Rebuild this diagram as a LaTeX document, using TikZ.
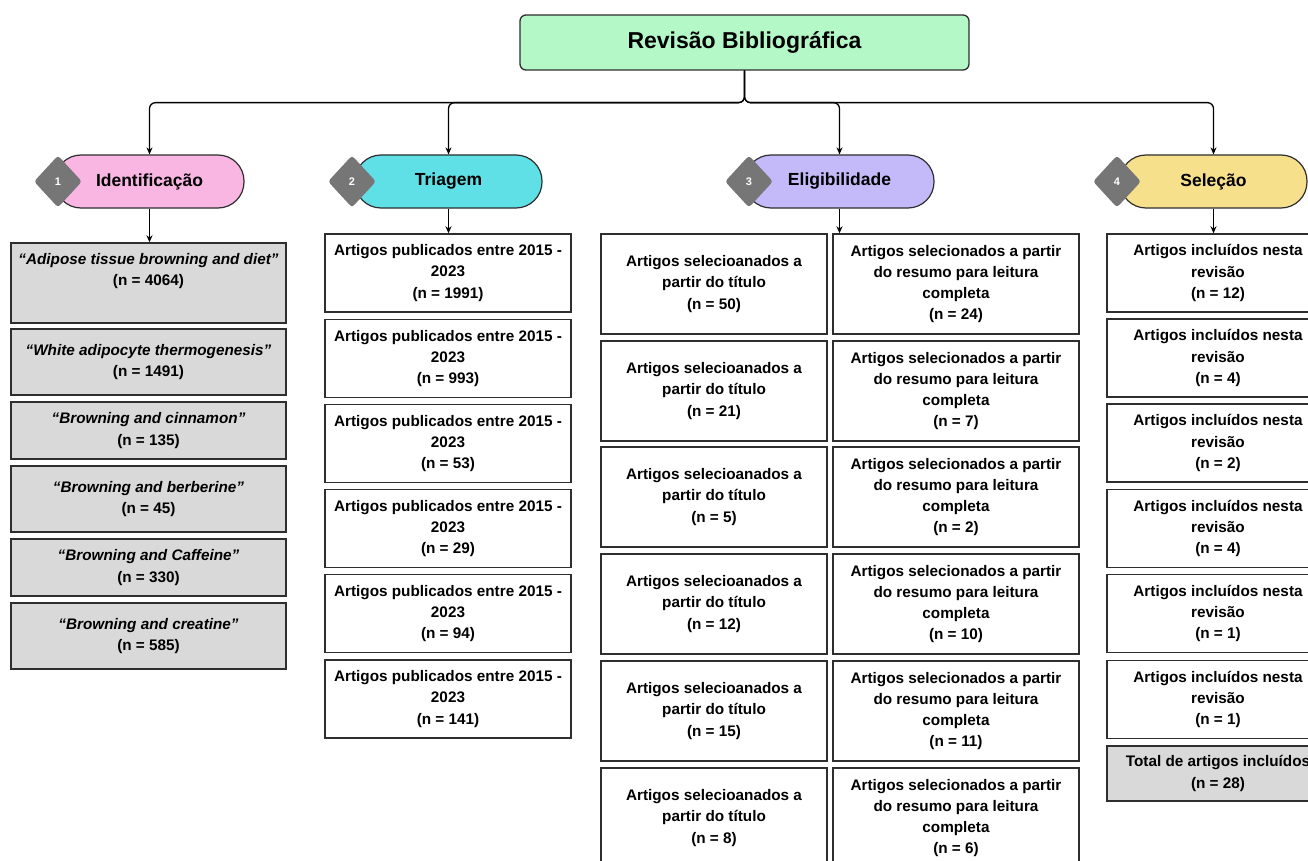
\documentclass[tikz,border=0pt]{standalone}
\usepackage{fontspec}
\setmainfont{Liberation Sans}
\usetikzlibrary{arrows.meta,shapes.geometric}
\definecolor{titlegreen}{HTML}{B4F8C8}
\definecolor{hpink}{HTML}{F9B6E2}
\definecolor{hcyan}{HTML}{5EE0E6}
\definecolor{hlav}{HTML}{C4BAFA}
\definecolor{hyel}{HTML}{F6E08C}
\definecolor{boxgray}{HTML}{D9D9D9}
\definecolor{edge}{HTML}{2E2E2E}
\definecolor{dia}{HTML}{767676}
\begin{document}
\begin{tikzpicture}[x=1pt,y=-1pt,
  body/.style={draw=edge, line width=1.4pt, align=center, inner sep=0pt,
    font=\fontsize{15.3}{21.3}\selectfont\bfseries},
  whitebox/.style={body, fill=white},
  graybox/.style={body, fill=boxgray},
  pill/.style={draw=edge, line width=1.2pt, rounded corners=26pt, minimum height=53pt,
    inner sep=0pt, font=\fontsize{17.5}{20}\selectfont\bfseries},
  badge/.style={diamond, fill=dia, minimum width=48pt, minimum height=52pt, inner sep=0pt,
    text=white, font=\fontsize{11}{12}\selectfont\bfseries, rounded corners=3pt},
  conn/.style={draw=black, line width=1.3pt, rounded corners=6pt,
    -{Stealth[length=7pt,width=6pt]}},
]
\useasboundingbox (0,0) rectangle (1308,861);
\clip (0,0) rectangle (1308,861);
\fill[white] (0,0) rectangle (1308,861);

% title
\node[draw=edge, line width=1.3pt, fill=titlegreen, rounded corners=6pt,
  minimum width=449pt, minimum height=55pt, inner sep=0pt,
  font=\fontsize{23}{26}\selectfont\bfseries] (title) at (744.5,42.5) {Revisão Bibliográfica};

% headers
\node[pill, fill=hpink, minimum width=189pt] (h1) at (149.5,181.5) {Identificação};
\node[pill, fill=hcyan, minimum width=187pt] (h2) at (448.5,181.5) {Triagem};
\node[pill, fill=hlav, minimum width=189pt] (h3) at (839.5,181.5) {Eligibilidade};
\node[pill, fill=hyel, minimum width=187pt] (h4) at (1213.5,181.5) {Seleção};
\node[badge] (d1) at (58,181.5) {1};
\node[badge] (d2) at (352,181.5) {2};
\node[badge] (d3) at (749,181.5) {3};
\node[badge] (d4) at (1117,181.5) {4};

% column 1
\node[graybox, minimum width=275pt, minimum height=80pt] (a1) at (148.5,283)
  {\itshape “Adipose tissue browning and diet”\\(n = 4064)\\\strut};
\node[graybox, minimum width=275pt, minimum height=66pt] (a2) at (148.5,362)
  {\itshape “White adipocyte thermogenesis”\\(n = 1491)};
\node[graybox, minimum width=275pt, minimum height=57pt] (a3) at (148.5,430.5)
  {\itshape “Browning and cinnamon”\\(n = 135)};
\node[graybox, minimum width=275pt, minimum height=66pt] (a4) at (148.5,499)
  {\itshape “Browning and berberine”\\(n = 45)};
\node[graybox, minimum width=275pt, minimum height=57pt] (a5) at (148.5,567.5)
  {\itshape “Browning and Caffeine”\\(n = 330)};
\node[graybox, minimum width=275pt, minimum height=66pt] (a6) at (148.5,636)
  {\itshape “Browning and creatine”\\(n = 585)};

% column 2
\foreach \i/\n/\y in {1/1991/273,2/993/358.5,3/53/443.5,4/29/528.5,5/94/613.5,6/141/699}
  \node[whitebox, minimum width=246pt, minimum height=78pt] (b\i) at (448,\y)
    {Artigos publicados entre 2015 -\\2023\\(n = \n)};

% column 3
\foreach \i/\n/\m/\y in {1/50/24/284,2/21/7/391,3/5/2/497,4/12/10/604,5/15/11/711,6/8/6/818}{
  \node[whitebox, minimum width=226pt, minimum height=100pt] (c\i) at (714,\y)
    {Artigos selecioanados a\\partir do título\\(n = \n)};
  \node[whitebox, minimum width=246pt, minimum height=100pt] (e\i) at (956,\y)
    {Artigos selecionados a partir\\do resumo para leitura\\completa\\(n = \m)};
}

% column 4
\foreach \i/\n/\y in {1/12/273,2/4/358,3/2/443,4/4/528.5,5/1/613.5,6/1/699.5}
  \node[whitebox, minimum width=222pt, minimum height=78pt] (s\i) at (1218,\y)
    {Artigos incluídos nesta\\revisão\\(n = \n)};
\node[graybox, minimum width=222pt, minimum height=55pt] (tot) at (1218,773.5)
  {Total de artigos incluídos\\(n = 28)};

% connectors from title
\draw[conn] (title.south) -- ++(0,32) -| (h1.north);
\draw[conn] (title.south) -- ++(0,32) -| (h2.north);
\draw[conn] (title.south) -- ++(0,32) -| (h3.north);
\draw[conn] (title.south) -- ++(0,32) -| (h4.north);

% connectors from headers
\draw[conn] (h1.south) -- (h1.south |- a1.north);
\draw[conn] (h2.south) -- (h2.south |- b1.north);
\draw[conn] (h3.south) -- (h3.south |- e1.north);
\draw[conn] (h4.south) -- (h4.south |- s1.north);
\end{tikzpicture}
\end{document}
